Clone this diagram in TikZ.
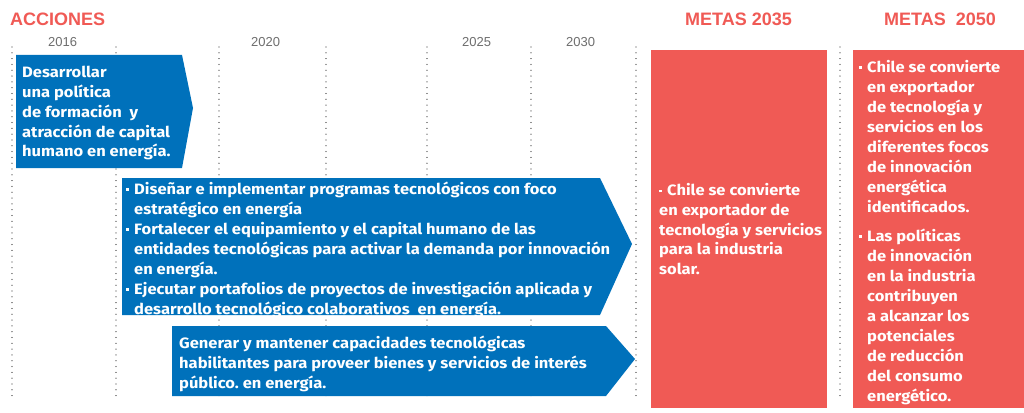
\documentclass[tikz,border=0pt]{standalone}
\usepackage{fontspec}
\setmainfont{Fira Sans}[FakeStretch=1.1]
\newfontfamily\headfont{Liberation Sans}
\definecolor{accblue}{HTML}{0071BB}
\definecolor{metared}{HTML}{F05A55}
\definecolor{yeargray}{HTML}{6E6E6E}
\definecolor{gridgray}{HTML}{7A7A7A}
\newcommand\bul{\makebox[8pt][l]{\raisebox{3.6pt}{\rule{2.6pt}{2.6pt}}}}
\newcommand\ind{\hspace*{8pt}}
\frenchspacing
\begin{document}
\begin{tikzpicture}[x=1pt,y=-1pt,
  gridline/.style={gridgray, line width=1.2pt, dash pattern=on 0.01pt off 5.8pt, line cap=round},
  arrowbox/.style={fill=accblue, draw=none},
  metabox/.style={fill=metared, draw=none},
  bodytext/.style={anchor=north west, inner sep=0pt, text=white, align=left,
    font=\frenchspacing\bfseries\fontsize{15}{20}\selectfont},
  headtext/.style={anchor=base west, inner sep=0pt, text=metared,
    font=\headfont\bfseries\fontsize{18}{20}\selectfont},
  yeartext/.style={anchor=base west, inner sep=0pt, text=yeargray,
    font=\headfont\fontsize{13}{14}\selectfont}]
\useasboundingbox (0,0) rectangle (1024,412);
\fill[white] (0,0) rectangle (1024,412);

% grid lines
\foreach \gx/\gn in {12/a,116/b,219/c,326/d,427/e,531/f,636/g,840/h}{
  \coordinate (gt\gn) at (\gx,47);
  \coordinate (gb\gn) at (\gx,400);
  \draw[gridline] (gt\gn) -- (gb\gn);
}

% headings
\node[headtext] (hacc) at (10,26) {ACCIONES};
\node[headtext] (h2035) at (685,26) {METAS 2035};
\node[headtext] (h2050) at (884,26) {METAS\ \ 2050};

% years
\node[yeartext] (y2016) at (48,46) {2016};
\node[yeartext] (y2020) at (251,46) {2020};
\node[yeartext] (y2025) at (462,46) {2025};
\node[yeartext] (y2030) at (566,46) {2030};

% action arrows
\fill[arrowbox] (16,55) -- (182,55) -- (193,108) -- (182,168) -- (16,168) -- cycle;
\fill[arrowbox] (122,178) -- (600,178) -- (632,244) -- (600,315) -- (122,315) -- cycle;
\fill[arrowbox] (172,326) -- (606,326) -- (635,359) -- (606,396) -- (172,396) -- cycle;

\node[bodytext, font=\frenchspacing\bfseries\fontsize{15}{19.7}\selectfont] (a1) at (22,64) {\strut Desarrollar\\
una política\\
de formación \ y\\
atracción de capital\\
humano en energía.};

\node[bodytext] (a2) at (126,180) {\strut\bul Diseñar e implementar programas tecnológicos con foco\\
\ind estratégico en energía\\
\bul Fortalecer el equipamiento y el capital humano de las\\
\ind entidades tecnológicas para activar la demanda por innovación\\
\ind en energía.\\
\bul Ejecutar portafolios de proyectos de investigación aplicada y\\
\ind desarrollo tecnológico colaborativos \ en energía.};

\node[bodytext] (a3) at (179,334) {\strut Generar y mantener capacidades tecnológicas\\
habilitantes para proveer bienes y servicios de interés\\
público. en energía.};

% goal boxes
\fill[metabox] (651,50) rectangle (827,408);
\fill[metabox] (853,50) rectangle (1024,408);

\node[bodytext, font=\frenchspacing\bfseries\fontsize{15}{19.6}\selectfont] (m1) at (659,182) {\strut\bul Chile se convierte\\
en exportador de\\
tecnología y servicios\\
para la industria\\
solar.};

\node[bodytext] (m2) at (859,58) {\strut\bul Chile se convierte\\
\ind en exportador\\
\ind de tecnología y\\
\ind servicios en los\\
\ind diferentes focos\\
\ind de innovación\\
\ind energética\\
\ind identificados.\\[9pt]
\bul Las políticas\\
\ind de innovación\\
\ind en la industria\\
\ind contribuyen\\
\ind a alcanzar los\\
\ind potenciales\\
\ind de reducción\\
\ind del consumo\\
\ind energético.};
\end{tikzpicture}
\end{document}
